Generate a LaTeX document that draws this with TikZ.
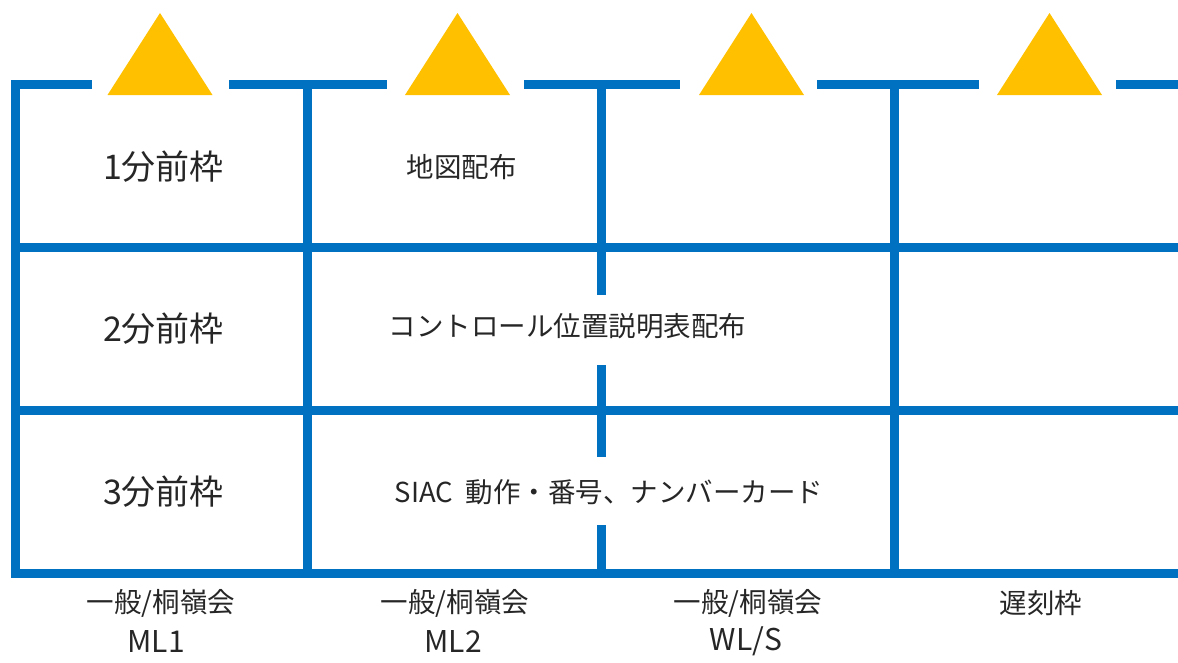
\documentclass[tikz,border=0pt]{standalone}
\usepackage{fontspec}
\setmainfont{Noto Sans CJK JP}
\usetikzlibrary{shapes.geometric}
\definecolor{gridblue}{HTML}{0070C0}
\definecolor{markyellow}{HTML}{FFC000}
\newcommand{\bigtxt}{\fontsize{34}{40}\selectfont}
\newcommand{\midtxt}{\fontsize{27.5}{32}\selectfont}
\newcommand{\latintxt}{\fontsize{30}{34}\selectfont}

\begin{document}
\begin{tikzpicture}[x=1pt, y=-1pt, line width=9pt, draw=gridblue]
					\tikzstyle{bar}=[draw=gridblue, line width=9pt]
					\tikzstyle{flag}=[fill=markyellow, draw=none]
					\tikzstyle{label}=[inner sep=0pt, text=black!85, anchor=center]
					\useasboundingbox (0,0) rectangle (1178,662);

					% Draw start marks
					\foreach \cx/\nm in {160/a, 457.5/b, 751.5/c, 1049.5/d}
						\fill[flag] (\cx-52.5,95) -- (\cx,13) -- (\cx+52.5,95) -- cycle;

					% Draw top line
					\draw[bar] (11,84.5) -- (92,84.5);
					\draw[bar] (229,84.5) -- (387,84.5);
					\draw[bar] (524,84.5) -- (680,84.5);
					\draw[bar] (817,84.5) -- (979,84.5);
					\draw[bar] (1116,84.5) -- (1178,84.5);

					% Draw rows
					\draw[bar] (11,247.5) -- (1178,247.5);
					\draw[bar] (11,410) -- (1178,410);
					\draw[bar] (11,573.5) -- (1178,573.5);

					% Draw columns
					\draw[bar] (15.5,80) -- (15.5,578);
					\draw[bar] (307.5,84.5) -- (307.5,578);
					\draw[bar] (894.5,84.5) -- (894.5,578);
					\draw[bar] (601,84.5) -- (601,295);
					\draw[bar] (601,365) -- (601,457);
					\draw[bar] (601,525) -- (601,578);

					% Draw labels
					\node[label] (t1) at (163.5,167) {\bigtxt 1分前枠};
					\node[label] (t2) at (163.5,329) {\bigtxt 2分前枠};
					\node[label] (t3) at (163.5,492) {\bigtxt 3分前枠};
					\node[label] (map) at (461.5,167) {\midtxt 地図配布};
					\node[label] (desc) at (567.5,326) {\midtxt コントロール位置説明表配布};
					\node[label] (siac) at (609,492) {\midtxt SIAC\ \ 動作・番号、ナンバーカード};

					\node[label] (g1) at (161,603) {\midtxt 一般/桐嶺会};
					\node[label] (g2) at (455,603) {\midtxt 一般/桐嶺会};
					\node[label] (g3) at (748,603) {\midtxt 一般/桐嶺会};
					\node[label] (late) at (1041,603) {\midtxt 遅刻枠};
					\node[label] (ml1) at (156,641) {\latintxt ML1};
					\node[label] (ml2) at (453,641) {\latintxt ML2};
					\node[label] (wls) at (746,641) {\latintxt WL/S};

				\end{tikzpicture}
\end{document}
